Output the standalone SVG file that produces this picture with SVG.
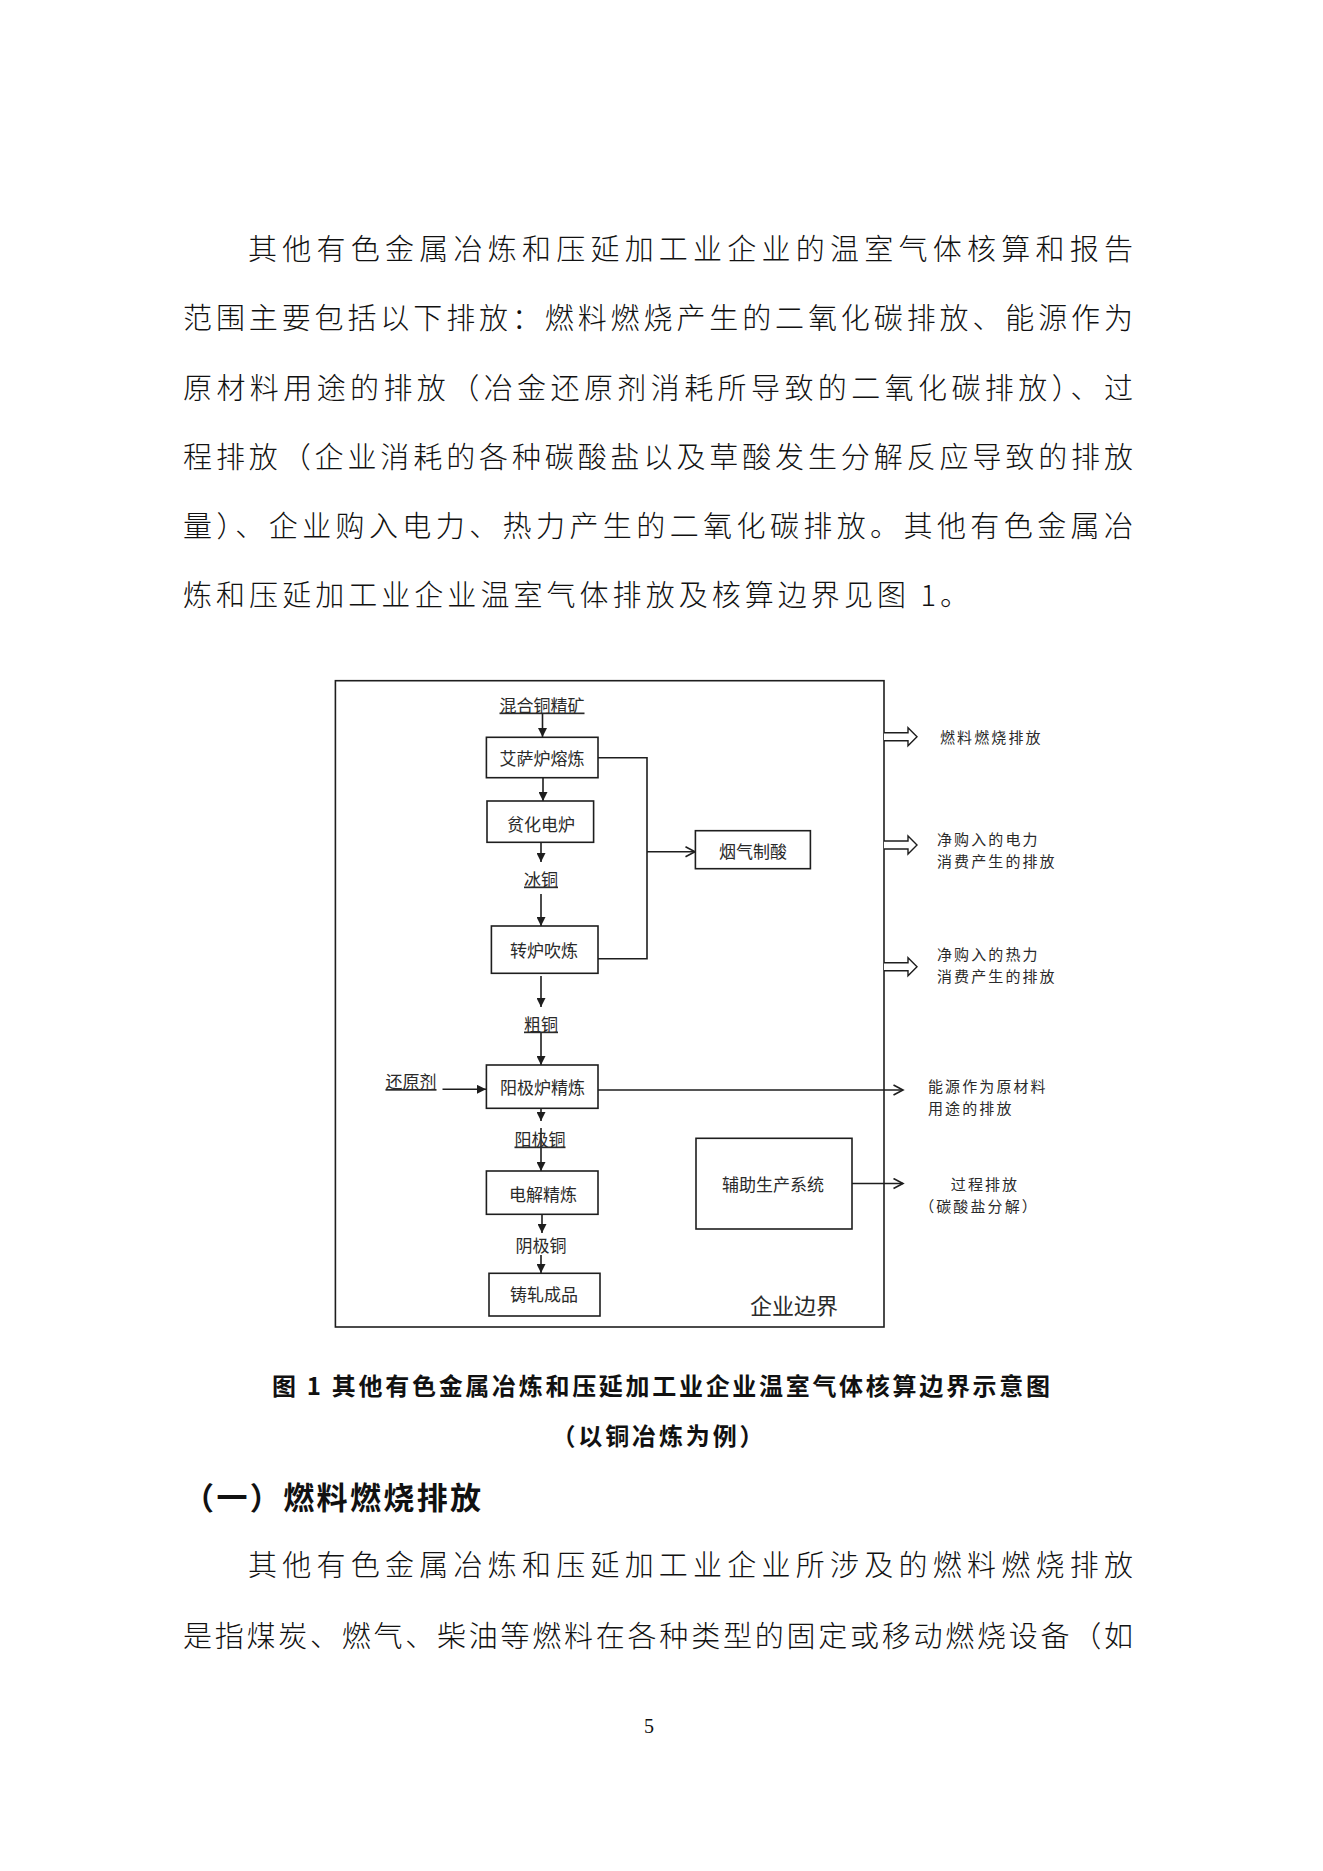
<svg xmlns="http://www.w3.org/2000/svg" width="1323" height="1871" viewBox="0 0 1323 1871">
<style>
.body{font-family:"Noto Sans CJK SC","Noto Sans CJK JP",sans-serif;font-size:29px;fill:#111;font-weight:300}
.cap{font-family:"Noto Sans CJK SC","Noto Sans CJK JP",sans-serif;font-size:24px;fill:#111;font-weight:bold}
.head{font-family:"Noto Sans CJK SC","Noto Sans CJK JP",sans-serif;font-size:31px;fill:#111;font-weight:bold}
.box{fill:#fff;stroke:#1e1e1e;stroke-width:1.6}
.lbl{font-family:"Noto Sans CJK SC","Noto Sans CJK JP",sans-serif;font-size:17px;fill:#2a2a2a;text-anchor:middle}
.side{font-family:"Noto Sans CJK SC","Noto Sans CJK JP",sans-serif;font-size:15px;letter-spacing:2.1px;fill:#2a2a2a}
.mid{text-anchor:middle}
.ul{text-decoration:underline}
.conn{stroke:#1e1e1e;stroke-width:1.6;fill:none}
.frame{fill:none;stroke:#1e1e1e;stroke-width:1.6}
.hollow{fill:#fff;stroke:#1e1e1e;stroke-width:1.4}
</style>
<defs>
<marker id="arr" markerUnits="userSpaceOnUse" markerWidth="10" markerHeight="9" refX="9" refY="4.5" orient="auto">
<path d="M0,0 L9,4.5 L0,9 z" fill="#1e1e1e"/>
</marker>
<marker id="open" markerUnits="userSpaceOnUse" markerWidth="12" markerHeight="12" refX="10.5" refY="6" orient="auto">
<path d="M1,1 L10.5,6 L1,11" fill="none" stroke="#1e1e1e" stroke-width="1.6"/>
</marker>
<path id="harrow" d="M0,-4 H24 V-9 L33,0 L24,9 V4 H0"/>
</defs>
<rect width="1323" height="1871" fill="#fff"/>

<g id="intro-text">
<text class="body" x="248" y="260" textLength="885" lengthAdjust="spacing">其他有色金属冶炼和压延加工业企业的温室气体核算和报告</text>
<text class="body" x="183" y="329" textLength="950" lengthAdjust="spacing">范围主要包括以下排放：燃料燃烧产生的二氧化碳排放、能源作为</text>
<text class="body" x="183" y="399" textLength="950" lengthAdjust="spacing">原材料用途的排放（冶金还原剂消耗所导致的二氧化碳排放）、过</text>
<text class="body" x="183" y="468" textLength="950" lengthAdjust="spacing">程排放（企业消耗的各种碳酸盐以及草酸发生分解反应导致的排放</text>
<text class="body" x="183" y="537" textLength="950" lengthAdjust="spacing">量）、企业购入电力、热力产生的二氧化碳排放。其他有色金属冶</text>
<text class="body" x="183" y="606" textLength="786" lengthAdjust="spacing">炼和压延加工业企业温室气体排放及核算边界见图 1。</text>
</g>

<g id="diagram">
<rect id="boundary" class="frame" x="335.4" y="680.7" width="548.6" height="646.3"/>

<g id="connectors">
<line class="conn" x1="542.5" y1="713.5" x2="542.5" y2="737" marker-end="url(#arr)"/>
<line class="conn" x1="543" y1="778" x2="543" y2="801" marker-end="url(#arr)"/>
<line class="conn" x1="541" y1="842" x2="541" y2="862" marker-end="url(#arr)"/>
<line class="conn" x1="541" y1="894" x2="541" y2="926" marker-end="url(#arr)"/>
<line class="conn" x1="541" y1="976" x2="541" y2="1007" marker-end="url(#arr)"/>
<line class="conn" x1="541" y1="1032" x2="541" y2="1065" marker-end="url(#arr)"/>
<line class="conn" x1="442.5" y1="1089.3" x2="486" y2="1089.3" marker-end="url(#arr)"/>
<line class="conn" x1="541" y1="1108" x2="541" y2="1121" marker-end="url(#arr)"/>
<line class="conn" x1="541" y1="1128" x2="541" y2="1171" marker-end="url(#arr)"/>
<line class="conn" x1="542" y1="1214" x2="542" y2="1233" marker-end="url(#arr)"/>
<line class="conn" x1="541" y1="1255" x2="541" y2="1273" marker-end="url(#arr)"/>
<polyline class="conn" points="598,757.7 647,757.7 647,958.7 598,958.7"/>
<line class="conn" x1="647" y1="851.7" x2="695" y2="851.7" marker-end="url(#open)"/>
<line class="conn" x1="598" y1="1090" x2="903" y2="1090" marker-end="url(#open)"/>
<line class="conn" x1="852" y1="1183.5" x2="903" y2="1183.5" marker-end="url(#open)"/>
<use href="#harrow" class="hollow" transform="translate(884,736.7)"/>
<use href="#harrow" class="hollow" transform="translate(884,845)"/>
<use href="#harrow" class="hollow" transform="translate(884,966.7)"/>
</g>

<g id="n-hunhe"><text class="lbl ul" x="542" y="711.5">混合铜精矿</text></g>
<g id="n-aisa"><rect class="box" x="486.4" y="737.3" width="111.6" height="40.4"/><text class="lbl" x="542" y="765">艾萨炉熔炼</text></g>
<g id="n-pinhua"><rect class="box" x="487" y="801" width="106.6" height="41.3"/><text class="lbl" x="541" y="830.5">贫化电炉</text></g>
<g id="n-bingtong"><text class="lbl ul" x="541" y="885.5">冰铜</text></g>
<g id="n-zhuanlu"><rect class="box" x="491.4" y="926" width="106.6" height="47.3"/><text class="lbl" x="544" y="956.5">转炉吹炼</text></g>
<g id="n-yanqi"><rect class="box" x="695.4" y="830.7" width="115" height="38"/><text class="lbl" x="753" y="858">烟气制酸</text></g>
<g id="n-cutong"><text class="lbl ul" x="541" y="1030.5">粗铜</text></g>
<g id="n-huanyuan"><text class="lbl ul" x="411" y="1088">还原剂</text></g>
<g id="n-yangjilu"><rect class="box" x="486.4" y="1065" width="111.6" height="43.3"/><text class="lbl" x="542.5" y="1094">阳极炉精炼</text></g>
<g id="n-yangjitong"><text class="lbl ul" x="540" y="1145.5">阳极铜</text></g>
<g id="n-dianjie"><rect class="box" x="486.4" y="1171" width="111.6" height="43.3"/><text class="lbl" x="543" y="1200.5">电解精炼</text></g>
<g id="n-yinjitong"><text class="lbl" x="541" y="1252">阴极铜</text></g>
<g id="n-zhuzha"><rect class="box" x="489" y="1273.3" width="111" height="42.7"/><text class="lbl" x="544" y="1301">铸轧成品</text></g>
<g id="n-fuzhu"><rect class="box" x="696" y="1138.3" width="156" height="90.7"/><text class="lbl" x="773" y="1191">辅助生产系统</text></g>
<g id="n-boundary-label"><text class="lbl" style="font-size:22px" x="794" y="1313.5">企业边界</text></g>

<g id="o-ranliao"><text class="side" x="940" y="742.7">燃料燃烧排放</text></g>
<g id="o-dianli"><text class="side" x="937" y="845.2">净购入的电力</text><text class="side" x="937" y="867.2">消费产生的排放</text></g>
<g id="o-reli"><text class="side" x="937" y="960.2">净购入的热力</text><text class="side" x="937" y="982.2">消费产生的排放</text></g>
<g id="o-nengyuan"><text class="side" x="928" y="1091.7">能源作为原材料</text><text class="side" x="928" y="1113.7">用途的排放</text></g>
<g id="o-guocheng"><text class="side mid" x="985" y="1189.7">过程排放</text><text class="side mid" x="979" y="1211.7">（碳酸盐分解）</text></g>
</g>

<g id="caption">
<text class="cap" x="272" y="1395" textLength="778" lengthAdjust="spacing">图 1 其他有色金属冶炼和压延加工业企业温室气体核算边界示意图</text>
<text class="cap" x="551.5" y="1445" textLength="212" lengthAdjust="spacing">（以铜冶炼为例）</text>
</g>

<g id="section">
<text class="head" x="183" y="1509" textLength="298" lengthAdjust="spacing">（一）燃料燃烧排放</text>
<text class="body" x="248" y="1576" textLength="885" lengthAdjust="spacing">其他有色金属冶炼和压延加工业企业所涉及的燃料燃烧排放</text>
<text class="body" x="183" y="1647" textLength="950" lengthAdjust="spacing">是指煤炭、燃气、柴油等燃料在各种类型的固定或移动燃烧设备（如</text>
</g>

<text id="page-number" x="649" y="1733" text-anchor="middle" font-family="Liberation Serif, serif" font-size="20" fill="#111">5</text>
</svg>
